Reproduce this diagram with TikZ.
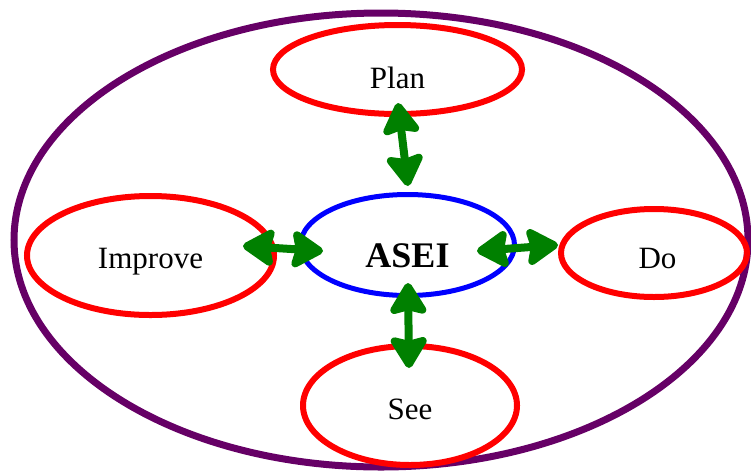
\documentclass[tikz,border=0pt]{standalone}
\usepackage{fontspec}
\setmainfont{Liberation Serif}
\usetikzlibrary{arrows.meta,calc,shapes.geometric}
\definecolor{ringpurple}{RGB}{102,0,102}
\definecolor{arrowgreen}{RGB}{0,128,0}
\tikzset{
  phase/.style={ellipse, draw=red, line width=6pt, inner sep=0pt, outer sep=0pt,
    font=\fontsize{31}{33}\selectfont, text depth=0pt},
  core/.style={ellipse, draw=blue, line width=5pt, inner sep=0pt, outer sep=0pt,
    font=\bfseries\fontsize{36}{38}\selectfont, text depth=0pt},
  twoway/.style={draw=arrowgreen, line width=8pt,
    {Stealth[length=36pt, width=43pt, inset=5pt, round]}-{Stealth[length=36pt, width=43pt, inset=5pt, round]}}
}
\begin{document}
\begin{tikzpicture}[x=1pt, y=-1pt]
\useasboundingbox (0,0) rectangle (751,472);
% enclosing ring
\draw[ringpurple, line width=7pt] (381,240) ellipse [x radius=367, y radius=227];
% centre and the four phases
\node[core, minimum width=214pt, minimum height=101pt, text height=44.6pt] (asei) at (407.5,245) {ASEI};
\node[phase, minimum width=249pt, minimum height=89pt, text height=37.6pt] (plan) at (397.5,69.5) {Plan};
\node[phase, minimum width=247pt, minimum height=119pt, text height=25.6pt] (improve) at (150.5,255.5) {Improve};
\node[phase, minimum width=186pt, minimum height=88pt, text height=30.6pt] (do) at (654,253) {\hspace*{7pt}Do};
\node[phase, minimum width=214pt, minimum height=119pt, text height=27.6pt] (see) at (410,405.5) {See};
% two-way links
\draw[twoway] ($(plan.south)+(0.5,-11)$) -- ($(asei.north)+(0.5,-8.5)$);
\draw[twoway] ($(improve.east)+(-31,-9.5)$) -- ($(asei.west)+(22.5,6)$);
\draw[twoway] ($(asei.east)+(-37.5,6)$) -- ($(do.west)+(-3,-8)$);
\draw[twoway] ($(asei.south)+(0.5,-12.5)$) -- ($(see.north)+(-1,22)$);
\end{tikzpicture}
\end{document}
